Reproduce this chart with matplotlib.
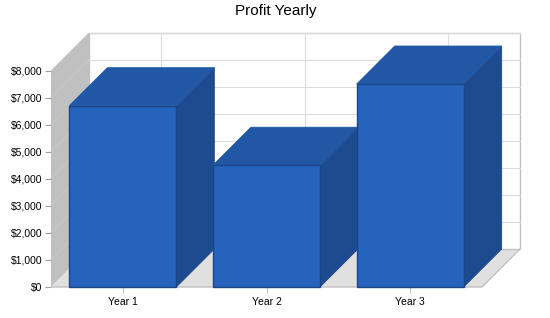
import numpy as np
import matplotlib
matplotlib.use("Agg")
import matplotlib.pyplot as plt
from matplotlib.patches import Polygon
from matplotlib.ticker import FuncFormatter

# ---------------- data ----------------
years = ["Year 1", "Year 2", "Year 3"]
profit = [6700, 4500, 7500]
y_ticks = [0, 1000, 2000, 3000, 4000, 5000, 6000, 7000, 8000]

# ---------------- style ----------------
front_col = "#2563BD"
top_col = "#2157A5"
side_col = "#1E4B8F"
edge_col = "#1C4586"
wall_col = "#C0C0C0"
floor_col = "#E0E0E0"
grid_col = "#DCDCDC"

plt.rcParams["font.family"] = ["Liberation Sans", "DejaVu Sans"]

fig = plt.figure(figsize=(5.5, 3.18), dpi=100)
# front plane of the 3d box
ax = fig.add_axes([51 / 550, 31 / 318, 431 / 550, 216.5 / 318])
ax.set_xlim(0, 3)
ax.set_ylim(0, 8000)

# depth offsets in data units (38px each way)
dx = 38 / 431 * 3
dy = 38 / 216.5 * 8000
top = y_ticks[-1]
n = len(years)

# left wall
ax.add_patch(Polygon([(0, 0), (0, top), (dx, top + dy), (dx, dy)],
                     closed=True, fc=wall_col, ec="none", clip_on=False, zorder=1))
for t in y_ticks[1:-1]:
    ax.plot([0, dx], [t, t + dy], color="#C8C8C8", lw=0.7, clip_on=False, zorder=1.5)
# floor
ax.add_patch(Polygon([(0, 0), (n, 0), (n + dx, dy), (dx, dy)],
                     closed=True, fc=floor_col, ec="none", clip_on=False, zorder=1))
ax.plot([0, n, n + dx], [0, 0, dy], color=wall_col, lw=1, clip_on=False, zorder=1.6)
# back wall
ax.add_patch(Polygon([(dx, dy), (n + dx, dy), (n + dx, top + dy), (dx, top + dy)],
                     closed=True, fc="white", ec=wall_col, lw=1, clip_on=False, zorder=1))
for t in y_ticks[1:]:
    ax.plot([dx, n + dx], [t + dy, t + dy], color=grid_col, lw=0.8, clip_on=False, zorder=1.2)
for i in range(n):
    ax.plot([i + 0.5 + dx, i + 0.5 + dx], [dy, top + dy], color=grid_col, lw=0.8,
            clip_on=False, zorder=1.2)

# bars
w = 0.745
for i, v in enumerate(profit):
    x0 = i + 0.5 - w / 2
    x1 = i + 0.5 + w / 2
    z = 3 + i
    ax.add_patch(Polygon([(x1, 0), (x1, v), (x1 + dx, v + dy), (x1 + dx, dy)],
                         closed=True, fc=side_col, ec=side_col, lw=0.6, clip_on=False, zorder=z))
    ax.add_patch(Polygon([(x0, v), (x1, v), (x1 + dx, v + dy), (x0 + dx, v + dy)],
                         closed=True, fc=top_col, ec=top_col, lw=0.6, clip_on=False, zorder=z))
    ax.add_patch(Polygon([(x0, 0), (x1, 0), (x1, v), (x0, v)],
                         closed=True, fc=front_col, ec=edge_col, lw=1, clip_on=False, zorder=z + 0.5))

for s in ax.spines.values():
    s.set_visible(False)
ax.patch.set_visible(False)

ax.set_yticks(y_ticks)
ax.yaxis.set_major_formatter(FuncFormatter(lambda val, pos: "${:,.0f}".format(val)))
ax.set_xticks(np.arange(n) + 0.5)
ax.set_xticklabels(years)
ax.tick_params(axis="y", length=4, width=0.8, color="#A0A0A0", pad=2, labelsize=7.5)
ax.tick_params(axis="x", length=4, width=0.8, color="#C0C0C0", pad=3, labelsize=7.5)

fig.text(276 / 550, 1 - 11 / 318, "Profit Yearly", ha="center", va="center", fontsize=11)

fig.savefig("out.png", dpi=100)
